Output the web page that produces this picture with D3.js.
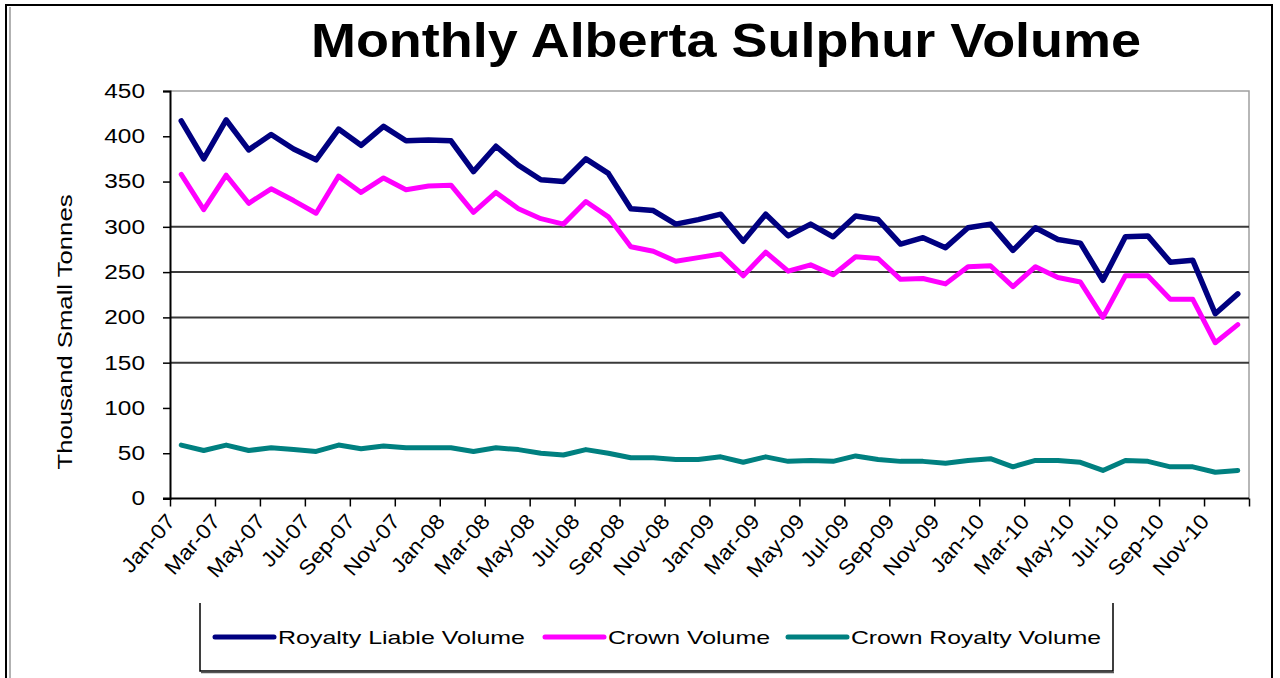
<!DOCTYPE html>
<html lang="en">
<head>
<meta charset="utf-8">
<title>Monthly Alberta Sulphur Volume</title>
<script src="https://cdn.jsdelivr.net/npm/d3@7"></script>
<style>
  body { margin: 0; background: #fff; }
  text { font-family: "Liberation Sans", Arial, sans-serif; fill: #000; }
</style>
</head>
<body>
<script>
// months on the category axis
var months = ["Jan-07","Feb-07","Mar-07","Apr-07","May-07","Jun-07","Jul-07","Aug-07","Sep-07","Oct-07","Nov-07","Dec-07",
              "Jan-08","Feb-08","Mar-08","Apr-08","May-08","Jun-08","Jul-08","Aug-08","Sep-08","Oct-08","Nov-08","Dec-08",
              "Jan-09","Feb-09","Mar-09","Apr-09","May-09","Jun-09","Jul-09","Aug-09","Sep-09","Oct-09","Nov-09","Dec-09",
              "Jan-10","Feb-10","Mar-10","Apr-10","May-10","Jun-10","Jul-10","Aug-10","Sep-10","Oct-10","Nov-10","Dec-10"];
// thousand small tonnes
var royaltyLiable = [417,375,418,385,402,386,374,408,390,411,395,396,
                     395,361,389,368,352,350,375,359,320,318,303,308,
                     314,284,314,290,303,289,312,308,281,288,277,299,
                     303,274,299,286,282,241,289,290,261,263,204,226];
var crown = [358,319,357,326,342,329,315,356,338,354,341,345,
             346,316,338,320,309,303,328,311,278,273,262,266,
             270,246,272,251,258,247,267,265,242,243,237,256,
             257,234,256,244,239,200,246,246,220,220,172,192];
var crownRoyalty = [59,53,59,53,56,54,52,59,55,58,56,56,
                    56,52,56,54,50,48,54,50,45,45,43,43,
                    46,40,46,41,42,41,47,43,41,41,39,42,
                    44,35,42,42,40,31,42,41,35,35,29,31];
var yTicks = [0,50,100,150,200,250,300,350,400,450];
var gridValues = [150,200,250,300];
var seriesNames = ["Royalty Liable Volume","Crown Volume","Crown Royalty Volume"];
var seriesColors = ["#000080","#ff00ff","#008080"];

var w = 1280, h = 678;
var plotLeft = 170, plotRight = 1249, plotTop = 91, plotBottom = 498.5;

var svg = d3.select("body").append("svg")
    .attr("width", w).attr("height", h);

// widen text a little, the original type is stretched sideways
function stretch(sel, k) {
  sel.each(function() {
    var len = this.getComputedTextLength();
    d3.select(this).attr("textLength", len * k).attr("lengthAdjust", "spacingAndGlyphs");
  });
}

// outer frame
svg.append("rect").attr("x", 6).attr("y", 5).attr("width", 1266).attr("height", 700)
   .attr("fill", "none").attr("stroke", "#000").attr("stroke-width", 2);
svg.append("line").attr("x1", 10).attr("x2", 10).attr("y1", 7).attr("y2", 678)
   .attr("stroke", "#999").attr("stroke-width", 1.5);

var x = d3.scaleBand().domain(months).range([plotLeft, plotRight]);
var xIdx = d3.scaleLinear().domain([0, months.length]).range([plotLeft, plotRight]);
var y = d3.scaleLinear().domain([0, 450]).range([plotBottom, plotTop]);
var cx = function(m) { return x(m) + x.bandwidth() / 2; };

// title
svg.append("text").attr("x", 726).attr("y", 57).attr("text-anchor", "middle")
   .attr("font-size", 48).attr("font-weight", "bold")
   .attr("textLength", 830).attr("lengthAdjust", "spacingAndGlyphs")
   .text("Monthly Alberta Sulphur Volume");

// plot border (top and right)
svg.append("path").attr("d", "M" + plotLeft + "," + plotTop + "H" + plotRight + "V" + plotBottom)
   .attr("fill", "none").attr("stroke", "#a0a0a0").attr("stroke-width", 1.5);

// gridlines
svg.selectAll(".grid").data(gridValues).enter().append("line")
   .attr("class", "grid")
   .attr("x1", plotLeft).attr("x2", plotRight)
   .attr("y1", function(d) { return y(d); }).attr("y2", function(d) { return y(d); })
   .attr("stroke", "#3a3a3a").attr("stroke-width", 2);

// y axis
var yAxis = svg.append("g").attr("transform", "translate(" + plotLeft + ",0)")
   .call(d3.axisLeft(y).tickValues(yTicks).tickSize(7).tickPadding(18));
yAxis.select(".domain").attr("stroke", "#000").attr("stroke-width", 2);
yAxis.selectAll(".tick line").attr("stroke", "#000").attr("stroke-width", 1.5);
yAxis.selectAll(".tick text").attr("font-size", 20).attr("font-family", "Liberation Sans, Arial, sans-serif")
   .call(stretch, 1.22);

svg.append("text").attr("transform", "translate(72,332) rotate(-90)")
   .attr("text-anchor", "middle").attr("font-size", 21)
   .attr("textLength", 275).attr("lengthAdjust", "spacingAndGlyphs")
   .text("Thousand Small Tonnes");

// x axis: ticks every two months on category edges
var tickIdx = d3.range(0, months.length + 1, 2);
var xAxis = svg.append("g").attr("transform", "translate(0," + plotBottom + ")")
   .call(d3.axisBottom(xIdx).tickValues(tickIdx).tickSize(8).tickFormat(""));
xAxis.select(".domain").attr("stroke", "#000").attr("stroke-width", 2)
   .attr("d", "M" + (plotLeft - 7) + ",0H" + plotRight);
xAxis.selectAll(".tick line").attr("stroke", "#000").attr("stroke-width", 1.5);

var labelMonths = months.filter(function(d, i) { return i % 2 === 0; });
svg.selectAll(".xlab").data(labelMonths).enter().append("text")
   .attr("class", "xlab")
   .attr("transform", function(d) { return "translate(" + (cx(d) - 5) + ",522) rotate(-49)"; })
   .attr("text-anchor", "end").attr("font-size", 21)
   .text(function(d) { return d; })
   .call(stretch, 1.08);

// lines
var series = [royaltyLiable, crown, crownRoyalty];
var line = d3.line()
   .x(function(d, i) { return cx(months[i]); })
   .y(function(d) { return y(d); });

svg.selectAll(".series").data(series).enter().append("path")
   .attr("class", "series")
   .attr("d", function(d) { return line(d); })
   .attr("fill", "none")
   .attr("stroke", function(d, i) { return seriesColors[i]; })
   .attr("stroke-width", function(d, i) { return i === 0 ? 5.5 : 5; })
   .attr("stroke-linejoin", "round").attr("stroke-linecap", "round");

// legend
svg.append("path").attr("d", "M200,603V671H1113V603")
   .attr("fill", "none").attr("stroke", "#000").attr("stroke-width", 1.5);
svg.append("line").attr("x1", 201).attr("x2", 1114).attr("y1", 672.5).attr("y2", 672.5)
   .attr("stroke", "#555").attr("stroke-width", 1.5);

var legendX = [215, 545, 788];
var legendTextW = [247, 162, 250];
var lg = svg.selectAll(".leg").data(seriesNames).enter().append("g")
   .attr("class", "leg")
   .attr("transform", function(d, i) { return "translate(" + legendX[i] + ",637)"; });
lg.append("line").attr("x1", 0).attr("x2", 59).attr("y1", 0).attr("y2", 0)
   .attr("stroke", function(d, i) { return seriesColors[i]; })
   .attr("stroke-width", 5).attr("stroke-linecap", "round");
lg.append("text").attr("x", 63).attr("y", 7).attr("font-size", 19)
   .attr("textLength", function(d, i) { return legendTextW[i]; })
   .attr("lengthAdjust", "spacingAndGlyphs")
   .text(function(d) { return d; });
</script>
</body>
</html>
